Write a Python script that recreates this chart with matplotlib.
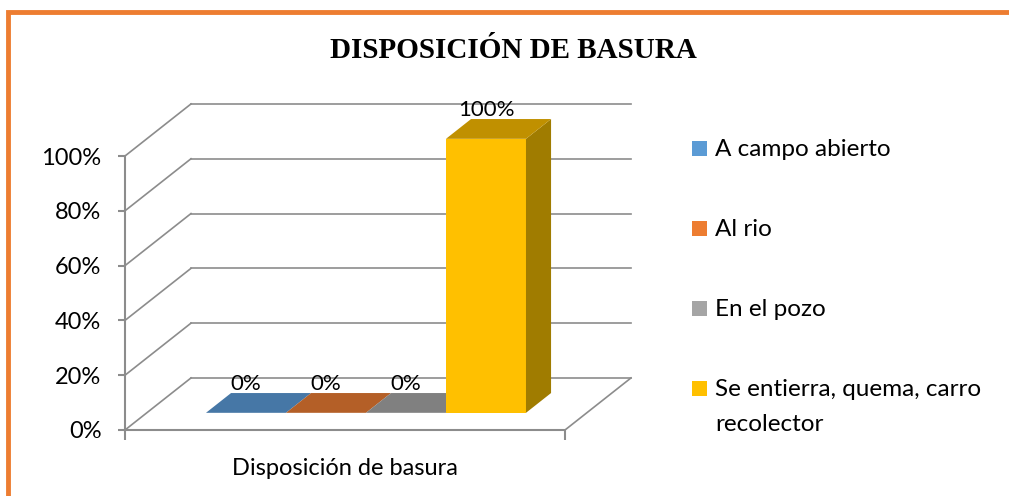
import matplotlib
matplotlib.use('Agg')
import matplotlib.pyplot as plt
from matplotlib.patches import Polygon, Rectangle

plt.rcParams['font.family'] = ['Lato', 'DejaVu Sans']

title = 'DISPOSICIÓN DE BASURA'
axis_label = 'Disposición de basura'
categories = ['A campo abierto', 'Al rio', 'En el pozo', 'Se entierra, quema, carro\nrecolector']
values = [0, 0, 0, 100]
value_labels = ['0%', '0%', '0%', '100%']
yticks = [0, 20, 40, 60, 80, 100]
ytick_labels = ['0%', '20%', '40%', '60%', '80%', '100%']

legend_colors = ['#5B9BD5', '#ED7D31', '#A5A5A5', '#FFC000']
front_colors = ['#4F81B5', '#C9692A', '#8C8C8C', '#FFC000']
top_colors = ['#4677A6', '#B45F27', '#808080', '#C09000']
side_colors = ['#3D6790', '#9C5222', '#6E6E6E', '#A07C00']

# 3D look: depth offset of the back wall (x units, percent units)
depth_dx, depth_dy = 0.825, 19.0
bar_start, bar_depth = 0.33, 0.38
floor_w = 5.5
bar_w = 1.0
gap = 0.74
grid_col = '#8C8C8C'

W, H = 1009, 496
fig = plt.figure(figsize=(W / 100, H / 100), dpi=100)
ax = fig.add_axes([125 / W, 66 / H, 515 / W, 340 / H])
ax.set_xlim(0, 515 / 80)
ax.set_ylim(0, 340 / 2.74)

# back wall gridlines and diagonal connectors
for t in yticks:
    ax.plot([depth_dx, floor_w + depth_dx], [t + depth_dy, t + depth_dy], color=grid_col, lw=1.2, zorder=1)
    ax.plot([0, depth_dx], [t, t + depth_dy], color=grid_col, lw=1.2, zorder=1)
# right floor edge
ax.plot([floor_w, floor_w + depth_dx], [0, depth_dy], color=grid_col, lw=1.2, zorder=1)

# bars
ox, oy = bar_start * depth_dx, bar_start * depth_dy
bx, by = bar_depth * depth_dx, bar_depth * depth_dy
for i, v in enumerate(values):
    x0 = gap + i * bar_w + ox
    x1 = x0 + bar_w
    y0 = oy
    y1 = oy + v
    top = [(x0, y1), (x1, y1), (x1 + bx, y1 + by), (x0 + bx, y1 + by)]
    if v > 0:
        ax.add_patch(Polygon([(x0, y0), (x1, y0), (x1, y1), (x0, y1)], closed=True,
                             facecolor=front_colors[i], edgecolor='none', zorder=3))
        ax.add_patch(Polygon([(x1, y0), (x1 + bx, y0 + by), (x1 + bx, y1 + by), (x1, y1)], closed=True,
                             facecolor=side_colors[i], edgecolor='none', zorder=3))
    ax.add_patch(Polygon(top, closed=True, facecolor=top_colors[i], edgecolor='none', zorder=3))
    ax.text(x0 + bar_w / 2, y1 + by - 0.5, value_labels[i],
            ha='center', va='bottom', fontsize=16, color='#000000', zorder=4)

# front axes
for s in ['top', 'right']:
    ax.spines[s].set_visible(False)
ax.spines['left'].set_bounds(0, 100)
ax.spines['bottom'].set_bounds(0, floor_w)
for s in ['left', 'bottom']:
    ax.spines[s].set_color(grid_col)
    ax.spines[s].set_linewidth(1.5)
ax.set_yticks(yticks)
ax.set_yticklabels(ytick_labels, fontsize=17)
ax.set_xticks([0, floor_w])
ax.set_xticklabels([])
ax.tick_params(axis='y', length=5, width=1.5, color=grid_col, pad=12)
ax.tick_params(axis='x', length=7, width=1.5, color=grid_col)
ax.set_xlabel(axis_label, fontsize=17, labelpad=10, x=(floor_w / 2) / (515 / 80))
ax.patch.set_visible(False)

fig.text(513 / W, 1 - 50 / H, title, ha='center', va='center', fontsize=21,
         fontweight='bold', family='Liberation Serif')

# legend, one entry every 80 px
for i, (lab, c) in enumerate(zip(categories, legend_colors)):
    yc = 148 + 80 * i
    fig.patches.append(Rectangle((692 / W, 1 - (yc + 7.5) / H), 15 / W, 15 / H,
                                 transform=fig.transFigure, facecolor=c, edgecolor='none'))
    fig.text(715 / W, 1 - (yc - 9) / H, lab, ha='left', va='top', fontsize=17.5,
             linespacing=1.8)

# orange frame
fig.patches.append(Rectangle((8 / W, -0.1), 1.2, 1 - 12 / H + 0.1, transform=fig.transFigure,
                             fill=False, edgecolor='#ED7D31', linewidth=3.5))

fig.savefig('out.png', dpi=100)
